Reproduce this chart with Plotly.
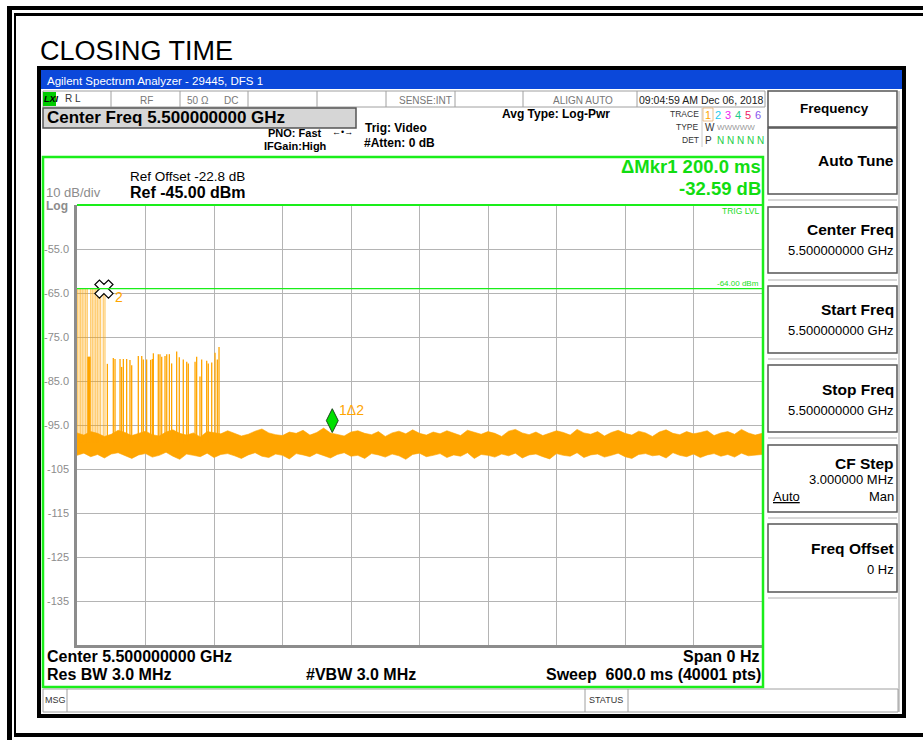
import plotly.graph_objects as go

# ---------------- data ----------------
y_tick_vals = [-55, -65, -75, -85, -95, -105, -115, -125, -135]
y_tick_text = ["-55.0", "-65.0", "-75.0", "-85.0", "-95.0", "-105", "-115", "-125", "-135"]
ref_level = -45.0          # dBm, top of graticule
bottom_level = -145.0      # dBm, bottom of graticule
sweep_ms = 600.0           # zero-span sweep time
trig_level = -64.0         # dBm video trigger level
spike_base = -99.0         # noise floor level from which pulses rise

# noise floor envelope (dBm) sampled every 6 ms over the 600 ms sweep
noise_t = list(range(0, 601, 6))
noise_upper = [
    -96.8, -97.3, -96.5, -96.9, -97.6, -97.1, -96.2, -96.7, -97.4, -96.9,
    -96.4, -97.2, -97.5, -96.6, -96.1, -96.9, -97.3, -96.8, -97.7, -96.5,
    -96.7, -97.0, -96.3, -96.9, -97.5, -97.1, -96.4, -95.9, -96.8, -97.2,
    -97.4, -96.6, -96.9, -96.2, -97.3, -96.7, -95.7, -96.8, -97.1, -97.5,
    -96.6, -96.3, -96.9, -97.2, -96.5, -97.6, -96.8, -96.4, -97.0, -96.1,
    -96.9, -97.3, -96.6, -97.0, -96.3, -96.8, -97.4, -96.2, -96.7, -97.1,
    -96.5, -96.9, -97.6, -96.4, -96.0, -96.8, -97.2, -96.6, -97.4, -96.9,
    -96.3, -96.7, -97.3, -96.0, -96.8, -97.1, -96.5, -97.5, -96.7, -96.2,
    -96.9, -97.3, -96.4, -96.8, -97.6, -96.6, -96.1, -96.9, -97.2, -96.5,
    -97.0, -96.7, -96.3, -97.4, -96.8, -96.5, -97.1, -96.0, -96.8, -97.3,
    -96.9]
noise_lower = [
    -101.9, -101.4, -102.2, -101.7, -102.5, -101.6, -101.3, -102.0, -102.6, -101.8,
    -101.5, -102.3, -101.9, -101.2, -102.1, -102.8, -101.6, -101.9, -102.2, -101.4,
    -102.4, -101.7, -101.5, -102.0, -102.6, -101.8, -101.3, -102.1, -102.4, -101.6,
    -101.9, -102.7, -101.5, -101.8, -102.2, -101.4, -102.0, -102.5, -101.7, -101.3,
    -102.1, -101.9, -102.6, -101.5, -101.8, -102.3, -101.6, -102.0, -102.8, -101.7,
    -101.4, -102.2, -101.9, -101.5, -102.4, -101.8, -102.1, -101.3, -102.6, -101.7,
    -101.9, -102.3, -101.6, -102.0, -101.4, -102.5, -101.8, -101.6, -102.2, -102.7,
    -101.5, -101.9, -102.1, -101.3, -102.4, -101.8, -101.6, -102.3, -101.9, -101.4,
    -102.2, -102.6, -101.7, -101.5, -102.0, -101.8, -102.5, -101.3, -101.9, -102.2,
    -101.6, -102.4, -101.8, -101.5, -102.1, -101.7, -102.3, -101.4, -102.0, -101.9,
    -101.7]

# strong burst at the start of the sweep (clipped at the trigger line)
burst_t = [0.3, 1.8, 3.2, 4.6, 6.1, 7.6, 9.0, 12.0, 13.4, 14.9, 16.4, 17.8, 19.3, 20.7, 23.0, 24.5]
burst_peak = [-64.0] * 16

# weaker pulses following the burst
pulse_t = [9.6, 10.2, 10.8, 11.4, 26.6, 31.8, 33.3, 37.7, 39.1, 40.6, 43.5, 46.4, 47.9, 53.7,
           56.7, 58.1, 61.0, 64.5, 66.0, 66.9, 71.2, 72.7, 74.2, 77.1, 78.6, 80.9, 82.9,
           87.3, 89.6, 93.1, 96.1, 97.5, 103.4, 104.8, 107.7, 109.2, 113.6, 115.0,
           118.0, 120.9, 122.9, 124.4]
pulse_peak = [-79.5, -79.5, -79.5, -79.5, -81.1, -79.8, -80.0, -80.0, -81.8, -80.0, -80.0, -80.2, -81.4, -79.3,
              -79.3, -80.1, -80.1, -80.2, -80.0, -78.7, -78.9, -78.9, -79.5, -79.3, -78.9, -78.9, -81.0,
              -78.3, -79.6, -80.1, -80.6, -81.0, -80.6, -79.5, -84.0, -80.1, -80.4, -81.0,
              -80.8, -78.6, -80.1, -77.3]

mkr2_t, mkr2_v = 23.6, -64.1     # reference marker (X)
mkr1_t, mkr1_v = 223.6, -96.7    # delta marker (diamond)

# ---------------- layout helpers (pixel -> paper) ----------------
W, H = 923, 740
L, R, T, B = 77, 762, 205, 645
FONT = "Liberation Sans, Arial, sans-serif"
ORANGE = "#ffa500"
GREEN = "#1aee1a"


def X(px):
    return (px - L) / (R - L)


def Y(py):
    return (B - py) / (B - T)


shapes = []
ann = []


def rect(x0, y0, x1, y1, fill=None, line=None, lw=1.0):
    shapes.append(dict(type="rect", xref="paper", yref="paper",
                       x0=X(x0), x1=X(x1), y0=Y(y1), y1=Y(y0),
                       fillcolor=fill if fill else "rgba(0,0,0,0)",
                       line=dict(color=line if line else "rgba(0,0,0,0)", width=lw if line else 0),
                       layer="above"))


def hline(x0, x1, y, color, lw=1.0):
    shapes.append(dict(type="line", xref="paper", yref="paper", x0=X(x0), x1=X(x1), y0=Y(y), y1=Y(y),
                       line=dict(color=color, width=lw), layer="above"))


def vline(x, y0, y1, color, lw=1.0):
    shapes.append(dict(type="line", xref="paper", yref="paper", x0=X(x), x1=X(x), y0=Y(y0), y1=Y(y1),
                       line=dict(color=color, width=lw), layer="above"))


def txt(s, px, py, size, color="#000000", anchor="left", bold=False, family=FONT):
    ann.append(dict(text=f"<b>{s}</b>" if bold else s, x=X(px), y=Y(py), xref="paper", yref="paper",
                    xanchor=anchor, yanchor="middle", showarrow=False, borderpad=0,
                    font=dict(size=size, color=color, family=family)))


# ---------------- outer frame ----------------
rect(7, 6, 923, 10, fill="#000000")
rect(14, 13, 923, 16, fill="#000000")
rect(7, 6, 12, 740, fill="#000000")
rect(14, 13, 16, 735, fill="#000000")
rect(14, 733, 923, 737, fill="#000000")
txt("CLOSING TIME", 39, 51, 27)

# ---------------- analyzer window ----------------
rect(39, 68, 904, 716, line="#000000", lw=4)
rect(41, 70, 902, 89, fill="#0b48da")
txt("Agilent Spectrum Analyzer - 29445, DFS 1", 46, 81, 11.5, color="#ffffff")

# status row
rect(43, 91, 765, 107, line="#a0a0a0", lw=1)
for sx in [111, 180, 248, 317, 386, 455, 523, 637]:
    vline(sx, 91, 107, "#a0a0a0")
rect(43, 92, 56, 106, fill="#00cc00")
txt("<i>LXI</i>", 43, 99, 9, bold=True)
txt("R L", 64, 99, 10, color="#333333")
txt("RF", 139, 100, 10, color="#777777")
txt("50 Ω", 186, 100, 10, color="#777777")
txt("DC", 223, 100, 10, color="#777777")
txt("SENSE:INT", 453, 100, 10, color="#777777", anchor="right")
txt("ALIGN AUTO", 583, 100, 10, color="#777777", anchor="center")
txt("09:04:59 AM Dec 06, 2018", 638, 100, 10.5, color="#222222")

# settings row
rect(43, 108, 356, 128, fill="#d6d6d6", line="#555555", lw=1.5)
txt("Center Freq 5.500000000 GHz", 46, 118, 17, bold=True)
txt("PNO: Fast", 323, 133, 11, bold=True, anchor="right")
txt("←•→", 342, 132, 9, anchor="center")
txt("IFGain:High", 328, 146, 11, bold=True, anchor="right")
txt("Trig: Video", 364, 128, 12, bold=True)
txt("#Atten: 0 dB", 363, 143, 12, bold=True)
txt("Avg Type: Log-Pwr", 501, 114, 12, bold=True)

txt("TRACE", 700, 114, 8.5, color="#333333", anchor="right")
txt("TYPE", 700, 127, 8.5, color="#333333", anchor="right")
txt("DET", 700, 140, 8.5, color="#333333", anchor="right")
vline(702, 108, 147, "#cccccc")
rect(703, 108, 713, 121, line="#e8b070", lw=0.8)
for d, c, xx in zip(["1", "2", "3", "4", "5", "6"],
                    [ORANGE, "#22ccee", "#ee22ee", "#22cc88", "#ee2266", "#8855ee"],
                    [708, 718, 728, 738, 748, 758]):
    txt(d, xx, 115, 11, color=c, anchor="center")
txt("W", 704, 127, 10, color="#333333")
txt("WWWWW", 716, 127, 8, color="#999999")
txt("P", 704, 140, 10, color="#333333")
txt("N N N N N", 716, 140, 10, color="#22cc44")

# graticule frame & readouts
rect(43, 157, 763, 687, line=GREEN, lw=2.5)
hline(77, 763, 205, GREEN, 2)
txt("ΔMkr1 200.0 ms", 762, 167, 18.5, color="#11dd11", bold=True, anchor="right")
txt("-32.59 dB", 762, 188, 18.5, color="#11dd11", bold=True, anchor="right")
txt("Ref Offset -22.8 dB", 129, 177, 13.5)
txt("Ref -45.00 dBm", 129, 192, 16, bold=True)
txt("10 dB/div", 45, 193, 13, color="#8c8c8c")
txt("Log", 45, 206, 12, color="#8c8c8c", bold=True)
txt("TRIG LVL", 760, 211, 8.5, color="#22dd22", anchor="right")
txt("-64.00 dBm", 760, 283, 8, color="#22dd22", anchor="right")

txt("Center 5.500000000 GHz", 46, 656, 16, bold=True)
txt("Span 0 Hz", 760, 656, 16, bold=True, anchor="right")
txt("Res BW 3.0 MHz", 46, 674, 16, bold=True)
txt("#VBW 3.0 MHz", 305, 674, 16, bold=True)
txt("Sweep\u00a0 600.0 ms (40001 pts)", 762, 674, 16, bold=True, anchor="right")

# message row
rect(43, 689, 898, 712, line="#a0a0a0", lw=1)
vline(67, 689, 712, "#a0a0a0")
vline(585, 689, 712, "#a0a0a0")
vline(628, 689, 712, "#a0a0a0")
txt("MSG", 44, 700, 9, color="#333333")
txt("STATUS", 588, 700, 9, color="#333333")

# softkey panel
vline(899, 91, 712, "#999999", 1)
for gy in [200, 280, 359, 438, 518, 598]:
    hline(768, 897, gy, "#b0b0b0", 1)
for (y0, y1) in [(91, 127), (128, 194), (207, 273), (286, 353), (365, 432), (445, 512), (524, 592)]:
    rect(768, y0, 897, y1, line="#555555", lw=1.5)
txt("Frequency", 834, 109, 13.5, bold=True, anchor="center")
txt("Auto Tune", 895, 161, 15.5, bold=True, anchor="right")
txt("Center Freq", 895, 230, 15.5, bold=True, anchor="right")
txt("5.500000000 GHz", 895, 251, 13, anchor="right")
txt("Start Freq", 895, 309, 15.5, bold=True, anchor="right")
txt("5.500000000 GHz", 895, 330, 13, anchor="right")
txt("Stop Freq", 895, 389, 15.5, bold=True, anchor="right")
txt("5.500000000 GHz", 895, 410, 13, anchor="right")
txt("CF Step", 895, 463, 15.5, bold=True, anchor="right")
txt("3.000000 MHz", 895, 479, 13, anchor="right")
txt("<u>Auto</u>", 772, 496, 13)
txt("Man", 895, 496, 13, anchor="right")
txt("Freq Offset", 895, 548, 15.5, bold=True, anchor="right")
txt("0 Hz", 895, 569, 13, anchor="right")

# trigger level line (data coordinates)
shapes.append(dict(type="line", xref="x", yref="y", x0=0, x1=sweep_ms, y0=trig_level, y1=trig_level,
                   line=dict(color=GREEN, width=1.3), layer="above"))

# ---------------- traces ----------------
fig = go.Figure()


def spikes(ts, ps):
    xs, ys = [], []
    for t, p in zip(ts, ps):
        xs += [t, t, None]
        ys += [spike_base, p, None]
    return xs, ys


fig.add_trace(go.Scatter(x=noise_t, y=noise_lower, mode="lines",
                         line=dict(color=ORANGE, width=0.6), hoverinfo="skip"))
fig.add_trace(go.Scatter(x=noise_t, y=noise_upper, mode="lines", fill="tonexty", fillcolor=ORANGE,
                         line=dict(color=ORANGE, width=0.6), hoverinfo="skip"))
bx, by = spikes(burst_t, burst_peak)
fig.add_trace(go.Scatter(x=bx, y=by, mode="lines", line=dict(color="rgba(255,165,0,0.6)", width=1.2),
                         hoverinfo="skip"))
px_, py_ = spikes(pulse_t, pulse_peak)
fig.add_trace(go.Scatter(x=px_, y=py_, mode="lines", line=dict(color=ORANGE, width=1.3),
                         hoverinfo="skip"))

# markers
fig.add_trace(go.Scatter(x=[mkr2_t], y=[mkr2_v], mode="markers", hoverinfo="skip",
                         marker=dict(symbol="x", size=16, color="#ffffff", line=dict(color="#000000", width=1.2))))
fig.add_trace(go.Scatter(x=[mkr1_t], y=[mkr1_v + 2.7], mode="markers", hoverinfo="skip",
                         marker=dict(symbol="diamond-tall", size=17, color="#00e000",
                                     line=dict(color="#1a4a1a", width=1))))
ann.append(dict(text="2", x=mkr2_t, y=mkr2_v, xref="x", yref="y", xanchor="left", yanchor="middle",
                xshift=9, yshift=-8, showarrow=False, font=dict(size=14, color=ORANGE, family=FONT)))
ann.append(dict(text="1Δ2", x=mkr1_t, y=mkr1_v, xref="x", yref="y", xanchor="left", yanchor="middle",
                xshift=5, yshift=22, showarrow=False, font=dict(size=14, color=ORANGE, family=FONT)))

fig.update_layout(
    width=W, height=H, autosize=False,
    margin=dict(l=L, r=W - R, t=T, b=H - B, pad=0),
    paper_bgcolor="#ffffff", plot_bgcolor="#ffffff",
    showlegend=False,
    shapes=shapes, annotations=ann,
    font=dict(family=FONT),
    xaxis=dict(range=[0, sweep_ms], dtick=60, tick0=0, showticklabels=False, showgrid=True,
               gridcolor="#b4b4b4", gridwidth=1, zeroline=False, showline=True,
               linecolor="#8c8c8c", linewidth=2.5, ticks=""),
    yaxis=dict(range=[bottom_level, ref_level], tickvals=y_tick_vals, ticktext=y_tick_text,
               showgrid=True, gridcolor="#b4b4b4", gridwidth=1, zeroline=False, showline=True,
               linecolor="#8c8c8c", linewidth=2.5, ticks="outside", ticklen=3,
               tickcolor="rgba(0,0,0,0)", tickfont=dict(size=11, color="#8c8c8c", family=FONT)),
)

fig.write_html("out.html", config={"displayModeBar": False},
               post_script="document.body.style.margin='0px';")
